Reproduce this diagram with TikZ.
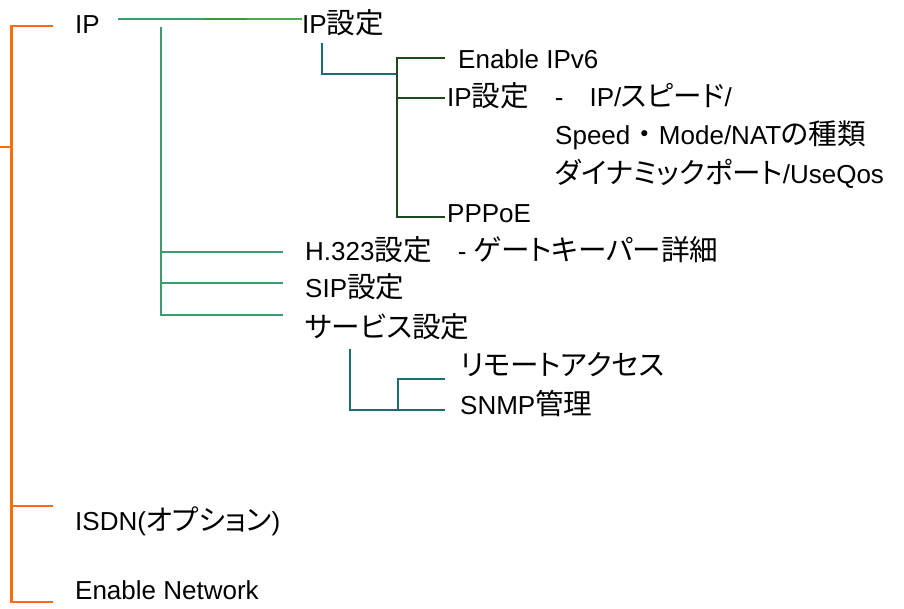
\documentclass[tikz,border=0pt]{standalone}
\usepackage{fontspec}
\setmainfont{Liberation Sans}
\newfontfamily\jpfont[Scale=1.1, RawFeature=+palt]{Noto Sans CJK JP}
\newfontfamily\jpfull[Scale=1.1]{Noto Sans CJK JP}
\newcommand\jp[1]{{\jpfont #1}}
\definecolor{rootorange}{HTML}{FF6D0A}
\definecolor{ipgreen}{HTML}{3C9C6E}
\definecolor{ipgreenmid}{HTML}{3A9A3A}
\definecolor{ipgreenlight}{HTML}{4CAA4C}
\definecolor{tealline}{HTML}{1B6E6E}
\definecolor{darkline}{HTML}{1C4A1C}
\begin{document}
\begin{tikzpicture}[x=1pt,y=-1pt,
  lbl/.style={anchor=base west, inner sep=0pt, font=\fontsize{26}{30}\selectfont},
  conn/.style={line width=2.7pt, line join=miter}]
\useasboundingbox (0,0) rectangle (904,609);

% labels
\node[lbl] (ip)     at (75,34)  {IP};
\node[lbl] (ipset)  at (302,34) {IP\jp{設定}};
\node[lbl] (v6)     at (458,69) {Enable IPv6};
\node[lbl] (ipdet)  at (447,107) {IP\jp{設定}\quad-\quad IP/\jp{スピード}/};
\node[lbl] (speed)  at (555,145) {Speed{\jpfull ・}Mode/NAT\jp{の種類}};
\node[lbl] (dyn)    at (555,184) {\jp{ダイナミックポート}/UseQos};
\node[lbl] (pppoe)  at (447,223) {PPPoE};
\node[lbl] (h323)   at (305,261) {H.323\jp{設定}\quad-\ \jp{ゲートキーパー詳細}};
\node[lbl] (sip)    at (305,298) {SIP\jp{設定}};
\node[lbl] (svc)    at (305,337) {\jp{サービス設定}};
\node[lbl] (remote) at (460,375) {\jp{リモートアクセス}};
\node[lbl] (snmp)   at (460,414) {SNMP\jp{管理}};
\node[lbl] (isdn)   at (75,530) {ISDN(\jp{オプション})};
\node[lbl] (net)    at (75,599) {Enable Network};

% junction points
\coordinate (rootin)  at (0,147);
\coordinate (rootbar) at (11.5,147);
\coordinate (oTop)    at (11.5,26);
\coordinate (oIsdn)   at (11.5,506);
\coordinate (oBot)    at (11.5,602);
\coordinate (ipT)     at (53,26);
\coordinate (isdnT)   at (53,506);
\coordinate (netT)    at (53,602);

% root bracket
\draw[conn, rootorange] (ipT) -- (oTop) -- (oBot) -- (netT);
\draw[conn, rootorange] (oIsdn) -- (isdnT);
\draw[conn, rootorange] (rootin) -- (rootbar);

% IP -> IP settings
\draw[conn, ipgreen]      (118,19) -- (204,19);
\draw[conn, ipgreenmid]   (204,19) -- (247,19);
\draw[conn, ipgreenlight] (247,19) -- (ipset.west |- 0,19);

% IP sub branches
\coordinate (gTop) at (161,27);
\coordinate (gH)   at (161,252);
\coordinate (gS)   at (161,283);
\coordinate (gV)   at (161,315);
\draw[conn, ipgreen] (gTop) -- (gV) -- (283,315);
\draw[conn, ipgreen] (gH) -- (283,252);
\draw[conn, ipgreen] (gS) -- (283,283);

% IP settings children
\draw[conn, tealline] (322,43) -- (322,74) -- (397,74);
\coordinate (dTop) at (397,58);
\coordinate (dMid) at (397,98);
\coordinate (dBot) at (397,217);
\draw[conn, darkline] (445,58) -- (dTop) -- (dBot) -- (445,217);
\draw[conn, darkline] (dMid) -- (445,98);

% service children
\coordinate (sTop) at (350,349);
\coordinate (sBot) at (350,410);
\coordinate (sJ)   at (398,410);
\coordinate (sJt)  at (398,379);
\draw[conn, tealline] (sTop) -- (sBot) -- (445,410);
\draw[conn, tealline] (sJ) -- (sJt) -- (445,379);
\end{tikzpicture}
\end{document}
